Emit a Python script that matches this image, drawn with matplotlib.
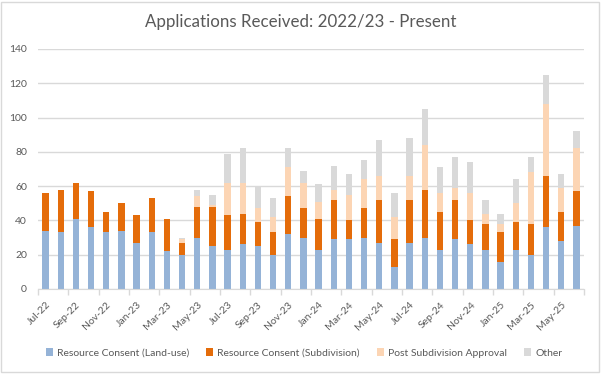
import matplotlib
matplotlib.use("Agg")
import matplotlib.pyplot as plt
from matplotlib.patches import Rectangle
import numpy as np

months = [
    "Jul-22", "Aug-22", "Sep-22", "Oct-22", "Nov-22", "Dec-22",
    "Jan-23", "Feb-23", "Mar-23", "Apr-23", "May-23", "Jun-23",
    "Jul-23", "Aug-23", "Sep-23", "Oct-23", "Nov-23", "Dec-23",
    "Jan-24", "Feb-24", "Mar-24", "Apr-24", "May-24", "Jun-24",
    "Jul-24", "Aug-24", "Sep-24", "Oct-24", "Nov-24", "Dec-24",
    "Jan-25", "Feb-25", "Mar-25", "Apr-25", "May-25", "Jun-25",
]
land_use = [34, 33, 41, 36, 33, 34, 27, 33, 22, 20, 30, 25,
            23, 26, 25, 20, 32, 30, 23, 29, 29, 30, 27, 13,
            27, 30, 23, 29, 26, 23, 16, 23, 20, 36, 28, 37]
subdivision = [22, 25, 21, 21, 12, 16, 16, 20, 19, 7, 18, 23,
               20, 18, 14, 13, 22, 17, 18, 23, 11, 17, 25, 16,
               25, 28, 22, 23, 14, 15, 17, 16, 18, 30, 17, 20]
post_subdivision = [0, 0, 0, 0, 0, 0, 0, 0, 0, 2, 6, 1,
                    19, 18, 8, 9, 17, 15, 10, 6, 15, 17, 14, 13,
                    14, 26, 11, 7, 16, 6, 5, 11, 30, 42, 14, 25]
other = [0, 0, 0, 0, 0, 0, 0, 0, 0, 1, 4, 6,
         17, 20, 13, 11, 11, 7, 10, 14, 12, 11, 21, 14,
         22, 21, 15, 18, 18, 8, 6, 14, 9, 17, 8, 10]

series = [
    ("Resource Consent (Land-use)", land_use, "#95B3D7"),
    ("Resource Consent (Subdivision)", subdivision, "#E46C0A"),
    ("Post Subdivision Approval", post_subdivision, "#FCD5B4"),
    ("Other", other, "#D9D9D9"),
]

TEXT = "#595959"
plt.rcParams["font.family"] = ["Lato", "DejaVu Sans"]

fig = plt.figure(figsize=(6.02, 3.74), dpi=100)
ax = fig.add_axes([38 / 602, 1 - 289 / 374, (584 - 38) / 602, 240 / 374])

x = np.arange(len(months))
bottom = np.zeros(len(months))
handles = []
for name, vals, color in series:
    vals = np.array(vals, dtype=float)
    b = ax.bar(x, vals, bottom=bottom, width=0.42, color=color, label=name, zorder=2)
    handles.append(b)
    bottom += vals

ax.set_xlim(-0.5, len(months) - 0.5)
ax.set_ylim(0, 140)
ax.set_yticks(np.arange(0, 141, 20))
ax.yaxis.grid(True, color="#D9D9D9", linewidth=1, zorder=0)
ax.tick_params(axis="y", length=0, pad=8, labelsize=7.5, labelcolor=TEXT)

# labels at every other category, tick marks on category boundaries
ax.set_xticks(x[::2])
ax.set_xticklabels(months[::2], rotation=45, ha="right", rotation_mode="anchor")
ax.tick_params(axis="x", which="major", length=0, pad=8, labelsize=7.5, labelcolor=TEXT)
ax.set_xticks(np.arange(-0.5, len(months), 2), minor=True)
ax.tick_params(axis="x", which="minor", length=4, color="#D9D9D9", width=1)

for side in ["top", "right", "left"]:
    ax.spines[side].set_visible(False)
ax.spines["bottom"].set_color("#D9D9D9")

fig.text(0.5, 1 - 22 / 374, "Applications Received: 2022/23 - Present",
         ha="center", va="center", fontsize=12.2, color=TEXT)

fig.legend(handles=handles, loc="center", bbox_to_anchor=(0.505, 1 - 353 / 374),
           ncol=4, frameon=False, fontsize=7.5, labelcolor=TEXT,
           handlelength=0.7, handleheight=0.7, handletextpad=0.4,
           columnspacing=1.6)

fig.patches.append(Rectangle((1 / 602, 2 / 374), 598 / 602, 370 / 374,
                             transform=fig.transFigure, fill=False,
                             edgecolor="#D9D9D9", linewidth=1))

fig.savefig("out.png", dpi=100)
